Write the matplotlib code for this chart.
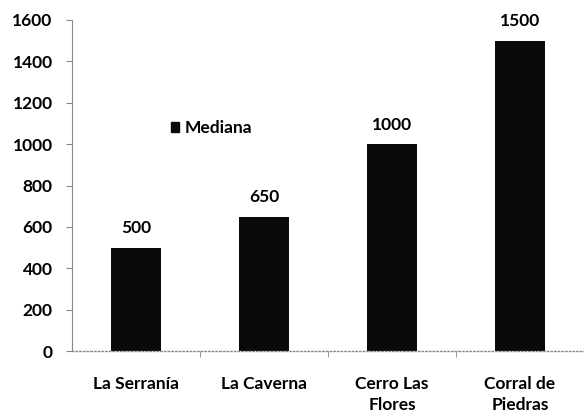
import matplotlib
matplotlib.use("Agg")
import matplotlib.pyplot as plt
from matplotlib.patches import Patch

categories = ["La Serranía", "La Caverna", "Cerro Las\nFlores", "Corral de\nPiedras"]
values = [500, 650, 1000, 1500]
series_name = "Mediana"
yticks = [0, 200, 400, 600, 800, 1000, 1200, 1400, 1600]

plt.rcParams['font.family'] = ['Lato', 'DejaVu Sans']
fig = plt.figure(figsize=(5.84, 4.16), dpi=100)
ax = fig.add_axes([72/584, 65/416, 512/584, 331/416])

x = list(range(len(categories)))
bars = ax.bar(x, values, width=0.39, color='#0a0a0a', label=series_name)
for xi, v in zip(x, values):
    ax.text(xi, v + 55, str(v), ha='center', va='bottom', fontsize=12.5, fontweight='bold')

ax.set_xlim(-0.5, len(categories) - 0.5)
ax.set_ylim(0, 1600)
ax.set_yticks(yticks)
ax.set_yticklabels([str(t) for t in yticks], fontsize=12.5, fontweight='bold')
ax.set_xticks(x)
ax.set_xticklabels(categories, fontsize=12.5, fontweight='bold', linespacing=1.4)
ax.tick_params(axis='x', length=0, pad=18)
ax.tick_params(axis='y', length=4, color='#888888', pad=10)
ax.set_xticks([0.5, 1.5, 2.5], minor=True)
ax.tick_params(axis='x', which='minor', length=4, color='#888888')

for s in ['top', 'right']:
    ax.spines[s].set_visible(False)
ax.spines['left'].set_color('#888888')
ax.spines['left'].set_linewidth(0.8)
ax.spines['bottom'].set_color('#888888')
ax.spines['bottom'].set_linestyle(':')
ax.spines['bottom'].set_linewidth(1.0)

leg = fig.legend(handles=[Patch(color='#0a0a0a', label=series_name)],
                 loc='center left', bbox_to_anchor=(155/584, 1 - 128/416),
                 frameon=False, handlelength=0.5, handleheight=0.5,
                 handletextpad=0.3, prop={'size': 12.5, 'weight': 'bold'})

fig.savefig("out.png", dpi=100)
